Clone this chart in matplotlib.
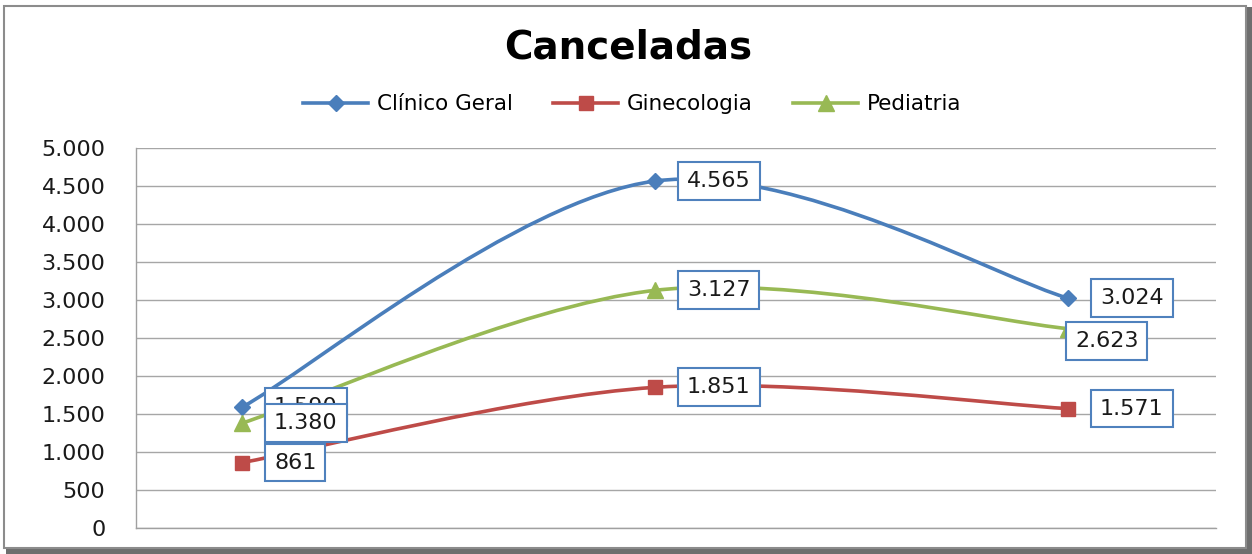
import matplotlib.pyplot as plt
from matplotlib.path import Path
from matplotlib.patches import PathPatch, Rectangle
from matplotlib.lines import Line2D
from matplotlib.ticker import FuncFormatter, MultipleLocator

categories = [0, 1, 2]
series_names = ['Clínico Geral', 'Ginecologia', 'Pediatria']
clinico = [1590, 4565, 3024]
ginecologia = [861, 1851, 1571]
pediatria = [1380, 3127, 2623]

colors = ['#4A7EBB', '#BE4B48', '#98B954']
markers = ['D', 's', '^']
msizes = [8, 10, 11]


def smooth_path(xs, ys):
    # Bezier segments with tangents from neighbouring points
    pts = list(zip(xs, ys))
    n = len(pts)
    verts = [pts[0]]
    codes = [Path.MOVETO]
    for i in range(n - 1):
        p0 = pts[max(i - 1, 0)]
        p1 = pts[i]
        p2 = pts[i + 1]
        p3 = pts[min(i + 2, n - 1)]
        c1 = (p1[0] + (p2[0] - p0[0]) / 6, p1[1] + (p2[1] - p0[1]) / 6)
        c2 = (p2[0] - (p3[0] - p1[0]) / 6, p2[1] - (p3[1] - p1[1]) / 6)
        verts += [c1, c2, p2]
        codes += [Path.CURVE4] * 3
    return Path(verts, codes)


fig = plt.figure(figsize=(12.52, 5.54), dpi=100)

# outer chart frame with a shadow
fig.patches.append(Rectangle((0.005, 0.0), 0.995, 0.987, transform=fig.transFigure,
                             facecolor='#6e6e6e', edgecolor='none', zorder=0))
fig.patches.append(Rectangle((0.003, 0.01), 0.992, 0.98, transform=fig.transFigure,
                             facecolor='white', edgecolor='#8c8c8c', lw=1.5, zorder=1))

ax = fig.add_axes([0.1086, 0.0469, 0.8626, 0.686])
ax.set_zorder(5)
ax.set_facecolor('none')

all_series = [clinico, ginecologia, pediatria]
label_offsets = {(2, 2): (-2, -9)}

for s, (vals, c, m, ms) in enumerate(zip(all_series, colors, markers, msizes)):
    ax.add_patch(PathPatch(smooth_path(categories, vals), facecolor='none',
                           edgecolor=c, lw=2.6, zorder=3))
    ax.plot(categories, vals, linestyle='none', marker=m, markersize=ms,
            color=c, zorder=4)

for s, vals in enumerate(all_series):
    for i, v in enumerate(vals):
        dx, dy = label_offsets.get((s, i), (16, 0))
        ax.annotate(f'{v:,}'.replace(',', '.'), (categories[i], v),
                    xytext=(dx + 7, dy), textcoords='offset points',
                    ha='left', va='center', fontsize=16, color='#1a1a1a',
                    bbox=dict(boxstyle='square,pad=0.4', facecolor='white',
                              edgecolor='#4F81BD', lw=1.5),
                    zorder=6 + s)

ax.set_xlim(-0.257, 2.358)
ax.set_ylim(0, 5000)
ax.yaxis.set_major_locator(MultipleLocator(500))
ax.yaxis.set_major_formatter(FuncFormatter(lambda v, p: f'{v:,.0f}'.replace(',', '.')))
ax.tick_params(axis='y', length=0, pad=22, labelsize=16, labelcolor='#1a1a1a')
ax.set_xticks([])
ax.grid(axis='y', color='#a6a6a6', lw=1)
ax.set_axisbelow(True)
for side in ['top', 'right']:
    ax.spines[side].set_visible(False)
for side in ['left', 'bottom']:
    ax.spines[side].set_color('#a0a0a0')
    ax.spines[side].set_linewidth(1)

fig.text(0.502, 0.915, 'Canceladas', ha='center', va='center',
         fontsize=28, fontweight='bold', zorder=5)

handles = [Line2D([], [], color=c, marker=m, markersize=ms, lw=2.6)
           for c, m, ms in zip(colors, markers, msizes)]
leg = fig.legend(handles, series_names, loc='center', bbox_to_anchor=(0.505, 0.812),
                 ncol=3, frameon=False, fontsize=15.5, handlelength=3.0,
                 handletextpad=0.4, columnspacing=1.9)
leg.set_zorder(5)

fig.savefig('out.png', dpi=100)
